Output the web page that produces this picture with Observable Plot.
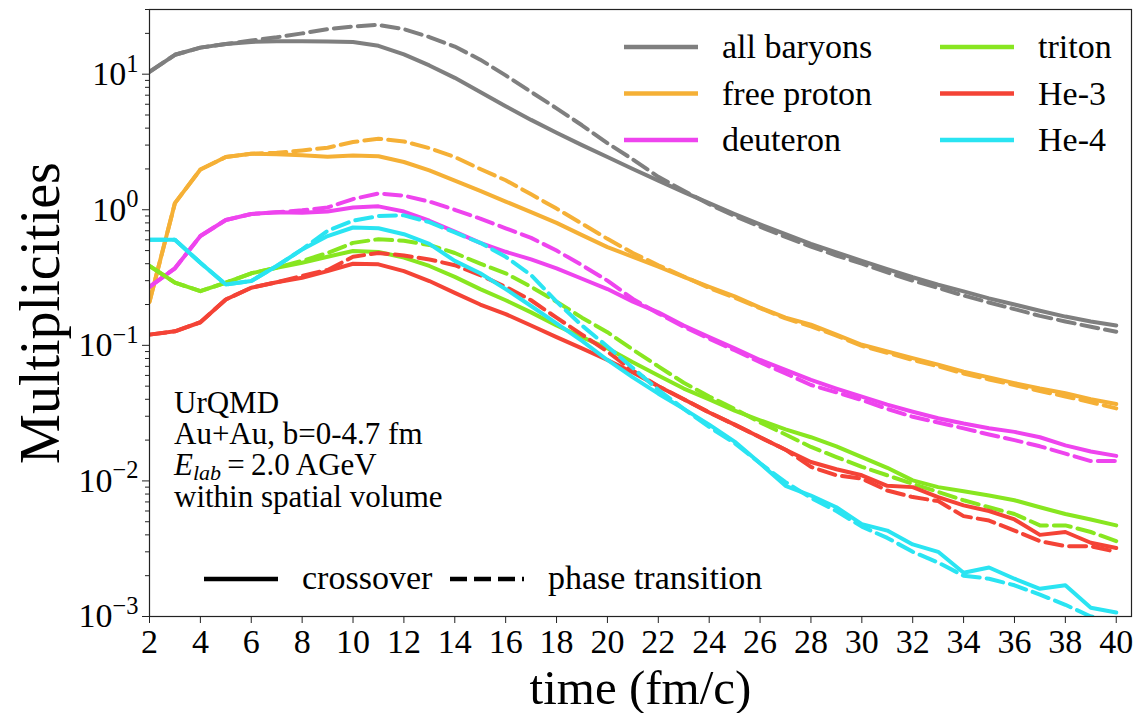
<!DOCTYPE html>
<html><head><meta charset="utf-8">
<script src="https://cdn.jsdelivr.net/npm/d3@7"></script>
<script src="https://cdn.jsdelivr.net/npm/@observablehq/plot@0.6"></script>
<style>
body{margin:0;background:#fff}
#chart{position:relative;width:1139px;height:713px}
</style>
</head><body><div id="chart"></div>
<script>
// time points (fm/c)
const times = [2,3,4,5,6,7,8,9,10,11,12,13,14,15,16,17,18,19,20,21,22,23,24,25,26,27,28,29,30,31,32,33,34,35,36,37,38,39,40];
const species = ["all baryons","free proton","deuteron","triton","He-3","He-4"];
const colors = ["#7f7f7f","#f5b036","#ee44ee","#88e620","#f44336","#2ae4f2"];
const scenarios = ["crossover","phase transition"];

// crossover (solid)
const allBaryonsCross = [10.4,13.9,15.7,16.7,17.3,17.5,17.5,17.4,17.3,16.2,14.0,11.6,9.4,7.4,5.8,4.6,3.7,3.0,2.45,2.0,1.64,1.35,1.12,0.93,0.78,0.66,0.56,0.485,0.42,0.365,0.318,0.28,0.25,0.222,0.2,0.18,0.163,0.15,0.14];
const protonCross = [0.21,1.12,1.98,2.45,2.59,2.57,2.52,2.46,2.51,2.48,2.25,1.95,1.64,1.38,1.15,0.96,0.8,0.65,0.53,0.45,0.38,0.32,0.27,0.23,0.19,0.16,0.142,0.12,0.101,0.09,0.0805,0.072,0.064,0.058,0.0526,0.048,0.0443,0.04,0.0369];
const deuteronCross = [0.27,0.37,0.64,0.84,0.93,0.96,0.95,0.97,1.04,1.06,0.97,0.83,0.69,0.57,0.49,0.43,0.37,0.31,0.26,0.21,0.175,0.14,0.115,0.095,0.078,0.066,0.0556,0.048,0.0418,0.0365,0.0324,0.029,0.0265,0.0245,0.023,0.021,0.0183,0.0165,0.0153];
const tritonCross = [0.385,0.29,0.251,0.29,0.34,0.374,0.407,0.45,0.497,0.488,0.444,0.385,0.32,0.26,0.215,0.175,0.14,0.115,0.095,0.075,0.06,0.048,0.04,0.033,0.028,0.024,0.021,0.018,0.015,0.0125,0.0101,0.009,0.0084,0.0078,0.0072,0.0064,0.0057,0.0052,0.0047];
const he3Cross = [0.12,0.127,0.148,0.218,0.266,0.292,0.315,0.353,0.4,0.396,0.353,0.298,0.244,0.2,0.17,0.14,0.115,0.095,0.078,0.063,0.05,0.04,0.032,0.026,0.021,0.017,0.0138,0.0122,0.011,0.0092,0.009,0.0076,0.0066,0.006,0.0052,0.004,0.0042,0.0035,0.0032];
const he4Cross = [0.6,0.6,0.407,0.281,0.298,0.385,0.51,0.64,0.74,0.73,0.66,0.56,0.42,0.34,0.26,0.195,0.145,0.108,0.078,0.058,0.044,0.034,0.026,0.0195,0.0135,0.0092,0.0078,0.0064,0.0048,0.0043,0.0034,0.003,0.0021,0.0023,0.0019,0.0016,0.0017,0.00116,0.00107];

// phase transition (dashed)
const allBaryonsPT = [10.4,13.9,15.7,16.7,17.7,18.7,20.0,21.5,22.5,23.1,21.5,18.8,16.0,12.8,9.8,7.4,5.6,4.2,3.1,2.35,1.75,1.38,1.1,0.9,0.75,0.63,0.535,0.46,0.4,0.345,0.3,0.265,0.233,0.207,0.185,0.165,0.15,0.137,0.126];
const protonPT = [0.21,1.12,1.98,2.45,2.59,2.63,2.74,2.87,3.16,3.34,3.19,2.85,2.45,2.0,1.65,1.3,1.02,0.79,0.61,0.48,0.39,0.322,0.265,0.225,0.188,0.158,0.138,0.118,0.099,0.088,0.078,0.07,0.062,0.056,0.051,0.046,0.042,0.038,0.0343];
const deuteronPT = [0.27,0.37,0.64,0.84,0.93,0.96,0.99,1.04,1.2,1.32,1.27,1.15,1.0,0.86,0.73,0.62,0.5,0.39,0.3,0.22,0.172,0.137,0.112,0.092,0.075,0.062,0.051,0.045,0.0395,0.034,0.0297,0.027,0.0244,0.022,0.02,0.018,0.0159,0.014,0.014];
const tritonPT = [0.385,0.29,0.251,0.29,0.34,0.374,0.42,0.48,0.57,0.607,0.59,0.55,0.48,0.4,0.34,0.27,0.21,0.16,0.125,0.093,0.07,0.053,0.042,0.034,0.027,0.022,0.0178,0.015,0.0127,0.011,0.0095,0.0083,0.0072,0.0064,0.0057,0.0047,0.0047,0.0042,0.0036];
const he3PT = [0.12,0.127,0.148,0.218,0.266,0.292,0.325,0.36,0.45,0.48,0.46,0.43,0.39,0.33,0.27,0.215,0.16,0.12,0.09,0.065,0.05,0.04,0.032,0.026,0.021,0.017,0.0127,0.011,0.0104,0.0085,0.0076,0.0071,0.0055,0.0051,0.0043,0.0036,0.0033,0.0033,0.003];
const he4PT = [0.6,0.6,0.407,0.281,0.298,0.385,0.51,0.7,0.83,0.9,0.91,0.81,0.68,0.57,0.45,0.33,0.21,0.14,0.098,0.068,0.047,0.034,0.025,0.019,0.0135,0.0098,0.0075,0.006,0.0046,0.0038,0.003,0.0025,0.002,0.0019,0.0017,0.00145,0.00122,0.001,0.00093];

const xTicks = [2,4,6,8,10,12,14,16,18,20,22,24,26,28,30,32,34,36,38,40];
const yMajor = [1e-3,1e-2,1e-1,1,10];
const yMinor = yMajor.flatMap(d => [2,3,4,5,6,7,8,9].map(k => k*d)).filter(v => v <= 30);

const crossSeries = [allBaryonsCross, protonCross, deuteronCross, tritonCross, he3Cross, he4Cross];
const ptSeries = [allBaryonsPT, protonPT, deuteronPT, tritonPT, he3PT, he4PT];

const rows = [];
species.forEach((s, i) => {
  crossSeries[i].forEach((v, j) => rows.push({species: s, scenario: "crossover", t: times[j], v}));
  ptSeries[i].forEach((v, j) => rows.push({species: s, scenario: "phase transition", t: times[j], v}));
});

const lineMarks = [];
species.forEach((s, i) => {
  lineMarks.push(Plot.line(rows.filter(d => d.species === s && d.scenario === "crossover"),
    {x: "t", y: "v", stroke: colors[i], strokeWidth: 4, clip: true}));
  lineMarks.push(Plot.line(rows.filter(d => d.species === s && d.scenario === "phase transition"),
    {x: "t", y: "v", stroke: colors[i], strokeWidth: 4, strokeDasharray: "17,7", clip: true}));
});

const plot = Plot.plot({
  width: 1139, height: 713,
  marginLeft: 149, marginRight: 8, marginTop: 9, marginBottom: 97,
  style: {fontFamily: "'Liberation Serif', serif", fontSize: "33px", color: "#000", background: "#fff", overflow: "visible"},
  x: {domain: [2, 40.6]},
  y: {type: "log", domain: [1e-3, 30]},
  marks: [
    ...lineMarks,
    Plot.frame({stroke: "#222", strokeWidth: 1.2}),
    Plot.axisX(xTicks, {tickSize: 7, tickPadding: 5, fontSize: 34, label: "time (fm/c)", labelAnchor: "center", labelOffset: 87, stroke: "#222"}),
    Plot.axisY(yMinor, {tickSize: 4, tickFormat: () => "", label: null, stroke: "#222"}),
    Plot.axisY(yMajor, {tickSize: 7, tickPadding: 4, fontSize: 34, tickFormat: d => "10^" + Math.round(Math.log10(d)),
      label: "Multiplicities", labelAnchor: "center", labelOffset: 130, stroke: "#222"})
  ]
});

document.getElementById("chart").appendChild(plot);
const svg = d3.select(plot);

// axis labels: plain text, larger
svg.selectAll('g[aria-label="x-axis label"] text').attr("font-size", 49).text("time (fm/c)");
svg.selectAll('g[aria-label="y-axis label"] text').attr("font-size", 56).text("Multiplicities");

// superscript tick labels
svg.selectAll('g[aria-label="y-axis tick label"] text').each(function() {
  const t = this.textContent;
  if (!t.startsWith("10^")) return;
  const exp = t.slice(3).replace("-", "\u2212");
  const el = d3.select(this);
  el.text("");
  el.append("tspan").text("10");
  el.append("tspan").attr("dy", "-0.55em").attr("font-size", "0.72em").text(exp);
});

// legend (species)
const leg = svg.append("g").attr("font-family", "'Liberation Serif', serif").attr("font-size", 34).attr("text-anchor", "start");
species.forEach((s, i) => {
  const col = Math.floor(i / 3), row = i % 3;
  const x0 = col === 0 ? 624 : 940;
  const y0 = 47 + row * 46.5;
  leg.append("line").attr("x1", x0).attr("x2", x0 + 74).attr("y1", y0).attr("y2", y0)
    .attr("stroke", colors[i]).attr("stroke-width", 4.5);
  leg.append("text").attr("x", x0 + 98).attr("y", y0 + 11).text(s);
});

// legend (scenarios)
const leg2 = svg.append("g").attr("font-family", "'Liberation Serif', serif").attr("font-size", 34).attr("text-anchor", "start");
scenarios.forEach((s, i) => {
  const x0 = i === 0 ? 204 : 450;
  const y0 = 579;
  leg2.append("line").attr("x1", x0).attr("x2", x0 + 74).attr("y1", y0).attr("y2", y0)
    .attr("stroke", "#000").attr("stroke-width", 4.5).attr("stroke-dasharray", i === 0 ? null : "17,7");
  leg2.append("text").attr("x", x0 + 98).attr("y", y0 + 10).text(s);
});

// annotation
const ann = svg.append("g").attr("font-family", "'Liberation Serif', serif").attr("font-size", 31).attr("fill", "#000").attr("text-anchor", "start");
ann.append("text").attr("x", 174).attr("y", 413).text("UrQMD");
ann.append("text").attr("x", 174).attr("y", 444).text("Au+Au, b=0-4.7 fm");
const e = ann.append("text").attr("x", 174).attr("y", 475);
e.append("tspan").attr("font-style", "italic").text("E");
e.append("tspan").attr("font-style", "italic").attr("font-size", 22).attr("dy", 5).text("lab");
e.append("tspan").attr("dy", -5).text("\u2009=\u20092.0 AGeV");
ann.append("text").attr("x", 174).attr("y", 507).text("within spatial volume");
</script>
</body></html>
